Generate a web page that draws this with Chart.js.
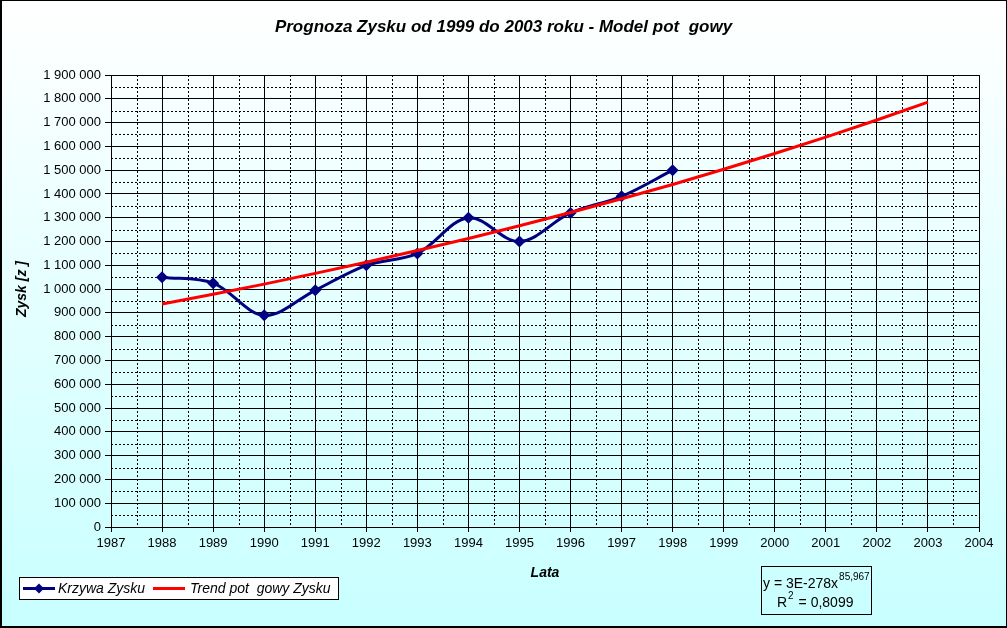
<!DOCTYPE html>
<html>
<head>
<meta charset="utf-8">
<script src="https://cdn.jsdelivr.net/npm/chart.js@4/dist/chart.umd.min.js"></script>
<style>
  html, body { margin: 0; padding: 0; background: #fff; }
  #wrap { width: 1007px; height: 628px; }
</style>
</head>
<body>
<div id="wrap"><canvas id="c" width="1007" height="628"></canvas></div>
<script>
// ---- data ----
const titleText = 'Prognoza Zysku od 1999 do 2003 roku - Model pot  gowy';
const xAxisTitle = 'Lata';
const yAxisTitle = 'Zysk [z ]';
const seriesNames = ['Krzywa Zysku', 'Trend pot  gowy Zysku'];
const years = [1988, 1989, 1990, 1991, 1992, 1993, 1994, 1995, 1996, 1997, 1998];
const profit = [1050000, 1025000, 890000, 995000, 1100000, 1150000, 1300000, 1200000, 1320000, 1390000, 1500000];
const trendYears = [1988, 1989, 1990, 1991, 1992, 1993, 1994, 1995, 1996, 1997, 1998, 1999, 2000, 2001, 2002, 2003];
const trendValues = [937000, 978000, 1021000, 1066000, 1113000, 1162000, 1213000, 1266000, 1322000, 1380000, 1440000, 1504000, 1570000, 1639000, 1711000, 1786000];
const xRange = [1987, 2004];
const yRange = [0, 1900000];
const yStep = 100000;
const equationLines = ['y = 3E-278x', '85,967', 'R', '2', ' = 0,8099'];

const FONT = '"Liberation Sans", Arial, sans-serif';

const bgPlugin = {
  id: 'bg',
  beforeDraw(chart) {
    const ctx = chart.ctx;
    const g = ctx.createLinearGradient(0, 0, 0, chart.height);
    g.addColorStop(0, '#ffffff');
    g.addColorStop(1, '#c8ffff');
    ctx.save();
    ctx.fillStyle = g;
    ctx.fillRect(0, 0, chart.width, chart.height);
    ctx.restore();
  }
};

const minorGridPlugin = {
  id: 'minorGrid',
  beforeDatasetsDraw(chart) {
    const {ctx, chartArea: a, scales: {x, y}} = chart;
    ctx.save();
    ctx.strokeStyle = '#000';
    ctx.lineWidth = 1;
    ctx.setLineDash([2, 2]);
    for (let v = yRange[0] + yStep / 2; v < yRange[1]; v += yStep) {
      const py = Math.round(y.getPixelForValue(v)) + 0.5;
      ctx.beginPath(); ctx.moveTo(a.left, py); ctx.lineTo(a.right, py); ctx.stroke();
    }
    for (let v = xRange[0] + 0.5; v < xRange[1]; v += 1) {
      const px = Math.round(x.getPixelForValue(v)) + 0.5;
      ctx.beginPath(); ctx.moveTo(px, a.top); ctx.lineTo(px, a.bottom); ctx.stroke();
    }
    ctx.restore();
  }
};

function drawDiamond(ctx, cx, cy, r, color) {
  ctx.beginPath();
  ctx.moveTo(cx, cy - r); ctx.lineTo(cx + r, cy); ctx.lineTo(cx, cy + r); ctx.lineTo(cx - r, cy);
  ctx.closePath();
  ctx.fillStyle = color; ctx.fill();
}

const extrasPlugin = {
  id: 'extras',
  afterDraw(chart) {
    const ctx = chart.ctx;
    ctx.save();
    // y axis title (Excel places it slightly above the plot centre)
    ctx.save();
    ctx.translate(22, 289);
    ctx.rotate(-Math.PI / 2);
    ctx.font = 'italic bold 14px ' + FONT;
    ctx.fillStyle = '#000';
    ctx.textAlign = 'center';
    ctx.textBaseline = 'middle';
    ctx.fillText(yAxisTitle, 0, 0);
    ctx.restore();

    // legend box
    ctx.fillStyle = '#ffffff';
    ctx.fillRect(19.5, 577.5, 319, 22);
    ctx.strokeStyle = '#000'; ctx.lineWidth = 1;
    ctx.strokeRect(19.5, 577.5, 319, 22);
    ctx.lineWidth = 3;
    ctx.strokeStyle = '#000080';
    ctx.beginPath(); ctx.moveTo(23, 588.5); ctx.lineTo(55, 588.5); ctx.stroke();
    drawDiamond(ctx, 39, 588.5, 5, '#000080');
    ctx.strokeStyle = '#ff0000';
    ctx.beginPath(); ctx.moveTo(153, 588.5); ctx.lineTo(185, 588.5); ctx.stroke();
    ctx.fillStyle = '#000';
    ctx.font = 'italic 14px ' + FONT;
    ctx.textBaseline = 'middle';
    ctx.textAlign = 'left';
    ctx.fillText(seriesNames[0], 58, 589);
    ctx.fillText(seriesNames[1], 190, 589);

    // equation box
    ctx.lineWidth = 1;
    ctx.strokeStyle = '#000';
    ctx.strokeRect(761.5, 566.5, 110, 48);
    ctx.textBaseline = 'alphabetic';
    ctx.font = '14px ' + FONT;
    ctx.fillText(equationLines[0], 763, 588);
    let w = ctx.measureText(equationLines[0]).width;
    ctx.font = '10px ' + FONT;
    ctx.fillText(equationLines[1], 763 + w + 1, 580);
    ctx.font = '14px ' + FONT;
    ctx.fillText(equationLines[2], 777, 607);
    w = ctx.measureText(equationLines[2]).width;
    ctx.font = '10px ' + FONT;
    ctx.fillText(equationLines[3], 777 + w + 1, 599);
    const w2 = ctx.measureText(equationLines[3]).width;
    ctx.font = '14px ' + FONT;
    ctx.fillText(equationLines[4], 777 + w + w2 + 2, 607);

    // outer border
    ctx.strokeStyle = '#000';
    ctx.lineWidth = 1;
    ctx.strokeRect(0.5, 0.5, chart.width - 1, chart.height - 1);
    ctx.fillStyle = '#000';
    ctx.fillRect(0, 0, 2, chart.height);
    ctx.fillRect(0, chart.height - 2, chart.width, 2);
    ctx.restore();
  }
};

const fmt = v => String(v).replace(/\B(?=(\d{3})+(?!\d))/g, ' ');

new Chart(document.getElementById('c'), {
  type: 'line',
  data: {
    datasets: [
      {
        label: seriesNames[0],
        data: years.map((yr, i) => ({x: yr, y: profit[i]})),
        borderColor: '#000080',
        backgroundColor: '#000080',
        borderWidth: 3,
        pointStyle: 'rectRot',
        pointRadius: 6,
        pointBorderWidth: 0,
        tension: 0.35,
        order: 2
      },
      {
        label: seriesNames[1],
        data: trendYears.map((yr, i) => ({x: yr, y: trendValues[i]})),
        borderColor: '#ff0000',
        backgroundColor: '#ff0000',
        borderWidth: 3,
        pointRadius: 0,
        tension: 0,
        order: 1
      }
    ]
  },
  options: {
    responsive: false,
    animation: false,
    devicePixelRatio: 1,
    layout: { padding: { left: 0, right: 0, top: 0, bottom: 41 } },
    plugins: {
      legend: { display: false },
      tooltip: { enabled: false },
      title: {
        display: true,
        text: titleText,
        color: '#000',
        font: { family: FONT, size: 17, style: 'italic', weight: 'bold' },
        padding: { top: 17, bottom: 37.6 }
      }
    },
    scales: {
      x: {
        type: 'linear',
        min: xRange[0], max: xRange[1],
        afterFit(s) { s.height = 60; },
        ticks: {
          stepSize: 1,
          autoSkip: false,
          maxRotation: 0,
          color: '#000',
          padding: 4,
          font: { family: FONT, size: 13 },
          callback: v => String(v)
        },
        grid: { color: '#000', lineWidth: 1, tickLength: 5, tickColor: '#000' },
        border: { color: '#000', width: 1 },
        title: {
          display: true, text: xAxisTitle, color: '#000',
          font: { family: FONT, size: 14, style: 'italic', weight: 'bold' },
          padding: { top: 0, bottom: 5 }
        }
      },
      y: {
        min: yRange[0], max: yRange[1],
        afterFit(s) { s.width = 111; },
        ticks: {
          stepSize: yStep,
          color: '#000',
          padding: 4,
          font: { family: FONT, size: 13 },
          callback: v => fmt(v)
        },
        grid: { color: '#000', lineWidth: 1, tickLength: 6, tickColor: '#000' },
        border: { color: '#000', width: 1 }
      },
      yR: {
        position: 'right',
        display: true,
        afterFit(s) { s.width = 28; },
        ticks: { display: false },
        grid: { display: false, drawOnChartArea: false },
        border: { display: false }
      }
    }
  },
  plugins: [bgPlugin, minorGridPlugin, extrasPlugin]
});
</script>
</body>
</html>
